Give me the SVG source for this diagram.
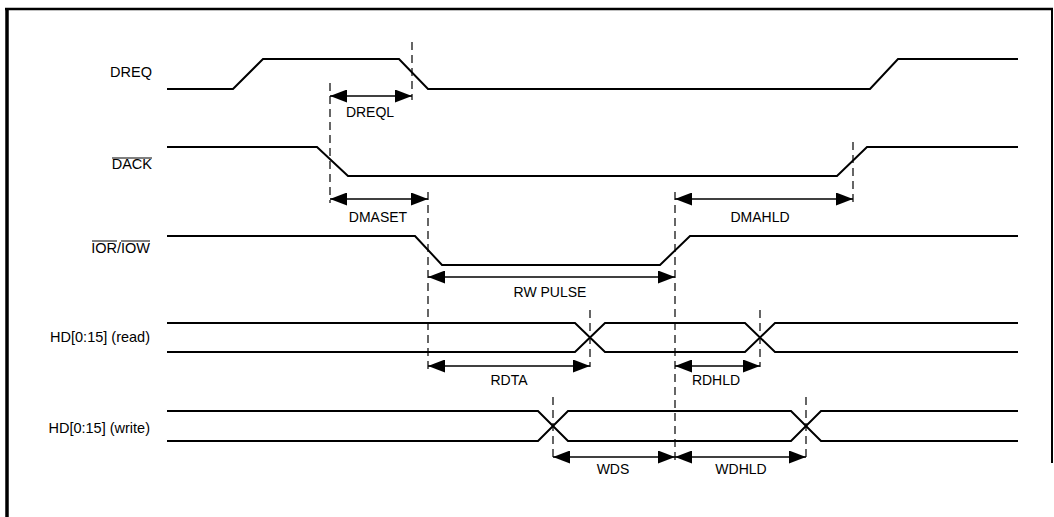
<svg xmlns="http://www.w3.org/2000/svg" width="1054" height="517" viewBox="0 0 1054 517">
<style>
  .sig { fill: none; stroke: #000; stroke-width: 2; stroke-linejoin: miter; }
  .dash { fill: none; stroke: #000; stroke-width: 1.2; stroke-dasharray: 8 5; }
  .dim { fill: none; stroke: #000; stroke-width: 1.6; marker-start: url(#ah); marker-end: url(#ah); }
  .lbl { font-family: "Liberation Sans", Arial, sans-serif; font-size: 14.5px; fill: #000; text-anchor: end; }
  .dl { font-family: "Liberation Sans", Arial, sans-serif; font-size: 14px; fill: #000; text-anchor: middle; }
  .ov { stroke: #000; stroke-width: 1; }
  .frame { stroke: #000; fill: none; }
</style>
<defs>
  <marker id="ah" markerUnits="userSpaceOnUse" markerWidth="17" markerHeight="13" viewBox="0 0 17 13" refX="17" refY="6.5" orient="auto-start-reverse">
    <path d="M0,0 L17,6.5 L0,13 z" fill="#000"/>
  </marker>
</defs>
<rect width="1054" height="517" fill="#fff"/>
<g id="frame">
  <line class="frame" x1="5" y1="9" x2="1053" y2="9" stroke-width="2.5"/>
  <line class="frame" x1="7" y1="8" x2="7" y2="517" stroke-width="3.5"/>
  <line class="frame" x1="1052" y1="8" x2="1052" y2="463" stroke-width="2"/>
</g>
<g id="dreq">
  <text class="lbl" x="152" y="77">DREQ</text>
  <path class="sig" d="M167,89 L233,89 L263,59 L399,59 L428,89 L870,89 L898,59 L1018,59"/>
</g>
<g id="dack">
  <text class="lbl" x="152" y="169">DACK</text>
  <line class="ov" x1="112" y1="158" x2="152" y2="158"/>
  <path class="sig" d="M167,147 L317,147 L348,176 L837,176 L867,147 L1018,147"/>
</g>
<g id="iorw">
  <text class="lbl" x="150" y="253">IOR/IOW</text>
  <line class="ov" x1="92" y1="241" x2="117" y2="241"/>
  <line class="ov" x1="121" y1="241" x2="150" y2="241"/>
  <path class="sig" d="M167,236 L415,236 L442,265 L660,265 L690,236 L1018,236"/>
</g>
<g id="hd-read">
  <text class="lbl" x="150" y="342">HD[0:15] (read)</text>
  <path class="sig" d="M167,323 L575,323 L605,352 L745,352 L775,323 L1018,323"/>
  <path class="sig" d="M167,352 L575,352 L605,323 L745,323 L775,352 L1018,352"/>
</g>
<g id="hd-write">
  <text class="lbl" x="150" y="433">HD[0:15] (write)</text>
  <path class="sig" d="M167,411 L538,411 L568,441 L791,441 L821,411 L1018,411"/>
  <path class="sig" d="M167,441 L538,441 L568,411 L791,411 L821,441 L1018,441"/>
</g>
<g id="connectors">
  <line class="dash" x1="330" y1="83" x2="330" y2="203"/>
  <line class="dash" x1="412" y1="42" x2="412" y2="100"/>
  <line class="dash" x1="428" y1="192" x2="428" y2="373"/>
  <line class="dash" x1="675" y1="192" x2="675" y2="460"/>
  <line class="dash" x1="853" y1="142" x2="853" y2="207"/>
  <line class="dash" x1="590" y1="310" x2="590" y2="367"/>
  <line class="dash" x1="760" y1="310" x2="760" y2="367"/>
  <line class="dash" x1="553" y1="397" x2="553" y2="460"/>
  <line class="dash" x1="806" y1="397" x2="806" y2="460"/>

  <line class="dim" x1="330" y1="96" x2="412" y2="96"/>
  <line class="dim" x1="330" y1="199" x2="428" y2="199"/>
  <line class="dim" x1="675" y1="199" x2="853" y2="199"/>
  <line class="dim" x1="428" y1="277" x2="675" y2="277"/>
  <line class="dim" x1="428" y1="366" x2="590" y2="366"/>
  <line class="dim" x1="675" y1="366" x2="760" y2="366"/>
  <line class="dim" x1="553" y1="457" x2="675" y2="457"/>
  <line class="dim" x1="675" y1="457" x2="806" y2="457"/>

  <text class="dl" x="370" y="117">DREQL</text>
  <text class="dl" x="378" y="222">DMASET</text>
  <text class="dl" x="760" y="222">DMAHLD</text>
  <text class="dl" x="550" y="297">RW PULSE</text>
  <text class="dl" x="509" y="385">RDTA</text>
  <text class="dl" x="716" y="385">RDHLD</text>
  <text class="dl" x="613" y="474">WDS</text>
  <text class="dl" x="741" y="474">WDHLD</text>
</g>
</svg>
